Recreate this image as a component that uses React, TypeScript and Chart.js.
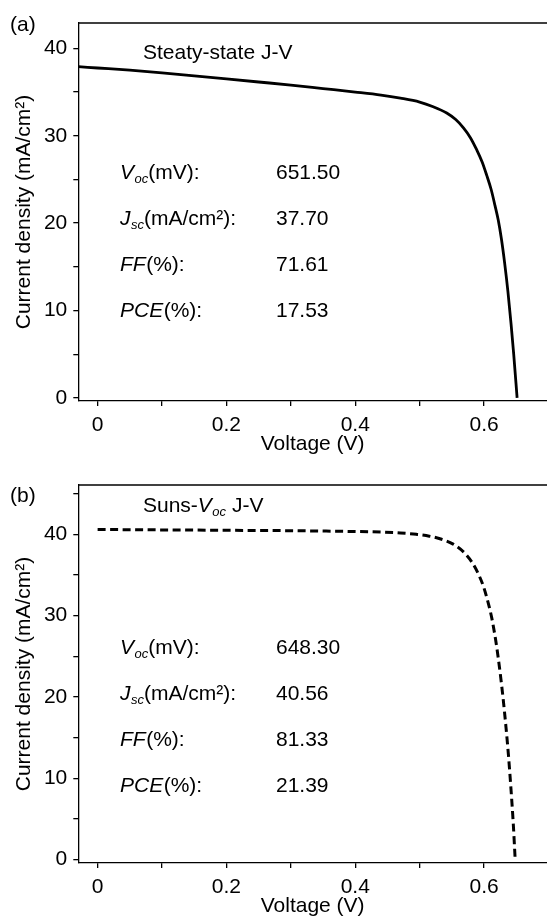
import React, { useEffect, useRef } from "react";
import { Chart, registerables } from "chart.js";

Chart.register(...registerables);

// ---------- data ----------
const voltageA = [-0.03, 0, 0.05, 0.1, 0.15, 0.2, 0.25, 0.3, 0.35, 0.4, 0.44, 0.47, 0.5, 0.52, 0.542, 0.556, 0.568, 0.579, 0.5885, 0.597, 0.604, 0.611, 0.617, 0.622, 0.627, 0.632, 0.637, 0.642, 0.646, 0.6513];
const currentA = [37.9, 37.75, 37.5, 37.2, 36.85, 36.5, 36.15, 35.8, 35.4, 35.0, 34.65, 34.3, 33.85, 33.35, 32.6, 31.85, 30.9, 29.75, 28.4, 27.0, 25.5, 23.85, 22.0, 20.35, 18.15, 15.4, 12.2, 8.4, 5.0, 0];

const voltageB = [0, 0.1, 0.2, 0.3, 0.4, 0.44, 0.47, 0.495, 0.515, 0.534, 0.552, 0.568, 0.581, 0.591, 0.599, 0.606, 0.612, 0.618, 0.622, 0.626, 0.63, 0.634, 0.638, 0.6415, 0.6452, 0.6483];
const currentB = [40.6, 40.55, 40.5, 40.45, 40.35, 40.28, 40.17, 40.0, 39.78, 39.4, 38.8, 37.85, 36.6, 35.15, 33.6, 31.7, 29.7, 27.0, 24.8, 22.3, 19.5, 16.3, 12.7, 9.0, 4.6, 0];

const xTickLabels = ["0", "0.2", "0.4", "0.6"];
const yTickLabels = ["0", "10", "20", "30", "40"];

const paramValuesA = ["651.50", "37.70", "71.61", "17.53"];
const paramValuesB = ["648.30", "40.56", "81.33", "21.39"];

const FONT = '"Liberation Sans", Arial, Helvetica, sans-serif';
const W = 547;
const H = 462;

type Seg = { t: string; i?: boolean; sub?: boolean };

const rowLabels: Seg[][] = [
  [{ t: "V", i: true }, { t: "oc", i: true, sub: true }, { t: "(mV):" }],
  [{ t: "J", i: true }, { t: "sc", i: true, sub: true }, { t: "(mA/cm²):" }],
  [{ t: "FF", i: true }, { t: "(%):" }],
  [{ t: "PCE", i: true }, { t: "(%):" }],
];

function drawRich(ctx: CanvasRenderingContext2D, x: number, y: number, segs: Seg[], size: number) {
  let cx = x;
  for (const s of segs) {
    const fs = s.sub ? size * 0.62 : size;
    ctx.font = `${s.i ? "italic " : ""}${fs}px ${FONT}`;
    ctx.fillText(s.t, cx, s.sub ? y + size * 0.3 : y);
    cx += ctx.measureText(s.t).width + (s.i && !s.sub ? 0.5 : 0);
  }
}

type PanelCfg = {
  top: number;
  volt: number[];
  curr: number[];
  dashed: boolean;
  yMin: number;
  yMax: number;
  panelLabel: string;
  panelLabelY: number;
  title: Seg[];
  titleY: number;
  rowYs: number[];
  values: string[];
};

const panels: PanelCfg[] = [
  {
    top: 0,
    volt: voltageA,
    curr: currentA,
    dashed: false,
    yMin: -0.35,
    yMax: 42.9,
    panelLabel: "(a)",
    panelLabelY: 25,
    title: [{ t: "Steaty-state J-V" }],
    titleY: 53,
    rowYs: [173, 219, 265, 311],
    values: paramValuesA,
  },
  {
    top: 462,
    volt: voltageB,
    curr: currentB,
    dashed: true,
    yMin: -0.41,
    yMax: 46.07,
    panelLabel: "(b)",
    panelLabelY: 34,
    title: [{ t: "Suns-" }, { t: "V", i: true }, { t: "oc", i: true, sub: true }, { t: " J-V" }],
    titleY: 44,
    rowYs: [186, 232, 278, 324],
    values: paramValuesB,
  },
];

function Panel({ cfg }: { cfg: PanelCfg }) {
  const ref = useRef<HTMLCanvasElement>(null);
  useEffect(() => {
    const font = { family: FONT, size: 21 };
    const textPlugin = {
      id: "texts" + cfg.panelLabel,
      afterDraw(chart: any) {
        const ctx: CanvasRenderingContext2D = chart.ctx;
        const a = chart.chartArea;
        ctx.save();
        ctx.strokeStyle = "#000";
        ctx.lineWidth = 1.3;
        ctx.beginPath();
        ctx.moveTo(a.left, a.top);
        ctx.lineTo(a.right, a.top);
        ctx.stroke();
        ctx.fillStyle = "#000";
        ctx.textBaseline = "middle";
        ctx.textAlign = "left";
        drawRich(ctx, 10, cfg.panelLabelY, [{ t: cfg.panelLabel }], 21);
        drawRich(ctx, 143, cfg.titleY, cfg.title, 21);
        rowLabels.forEach((segs, k) => {
          drawRich(ctx, 120, cfg.rowYs[k], segs, 21);
          drawRich(ctx, 276, cfg.rowYs[k], [{ t: cfg.values[k] }], 21);
        });
        ctx.restore();
      },
    };
    const chart = new Chart(ref.current!, {
      type: "line",
      data: {
        datasets: [
          {
            data: cfg.volt.map((v, i) => ({ x: v, y: cfg.curr[i] })),
            borderColor: "#000",
            borderWidth: cfg.dashed ? 3 : 2.8,
            borderDash: cfg.dashed ? [8, 4.5] : [],
            pointRadius: 0,
            cubicInterpolationMode: "monotone",
            fill: false,
          },
        ],
      },
      options: {
        responsive: false,
        maintainAspectRatio: false,
        animation: false,
        devicePixelRatio: 1,
        layout: { padding: { top: 23, left: 0, right: 0, bottom: 0 } },
        plugins: { legend: { display: false }, tooltip: { enabled: false } },
        scales: {
          x: {
            type: "linear",
            min: -0.03,
            max: 0.6977,
            afterFit: (s: any) => {
              s.height = H - 401;
            },
            border: { display: true, color: "#000", width: 1.3 },
            grid: { display: true, drawOnChartArea: false, drawTicks: true, tickLength: 5, color: "#000", lineWidth: 1.3 },
            ticks: {
              stepSize: 0.1,
              includeBounds: false,
              autoSkip: false,
              maxRotation: 0,
              padding: 7,
              color: "#000",
              font,
              callback: (v: any) => {
                const k = Math.round(Number(v) * 10);
                return k % 2 === 0 ? xTickLabels[k / 2] ?? "" : "";
              },
            },
            title: { display: true, text: "Voltage (V)", color: "#000", font, padding: { top: 0, bottom: 5 } },
          },
          y: {
            type: "linear",
            min: cfg.yMin,
            max: cfg.yMax,
            afterFit: (s: any) => {
              s.width = 78.3;
            },
            border: { display: true, color: "#000", width: 1.3 },
            grid: { display: true, drawOnChartArea: false, drawTicks: true, tickLength: 5, color: "#000", lineWidth: 1.3 },
            ticks: {
              stepSize: 5,
              includeBounds: false,
              autoSkip: false,
              padding: 6,
              color: "#000",
              font,
              callback: (v: any) => {
                const k = Math.round(Number(v));
                return k % 10 === 0 ? yTickLabels[k / 10] ?? "" : "";
              },
            },
            title: { display: true, text: "Current density (mA/cm²)", color: "#000", font, padding: { top: 12, bottom: 0 } },
          },
        },
      } as any,
      plugins: [textPlugin],
    });
    return () => chart.destroy();
  }, []);
  return (
    <canvas
      ref={ref}
      width={W}
      height={H}
      style={{ position: "absolute", left: 0, top: cfg.top, width: W, height: H }}
    />
  );
}

export default function App() {
  return (
    <div style={{ position: "absolute", left: 0, top: 0, width: W, height: 917, overflow: "hidden", background: "#fff" }}>
      {panels.map((p) => (
        <Panel key={p.panelLabel} cfg={p} />
      ))}
    </div>
  );
}
